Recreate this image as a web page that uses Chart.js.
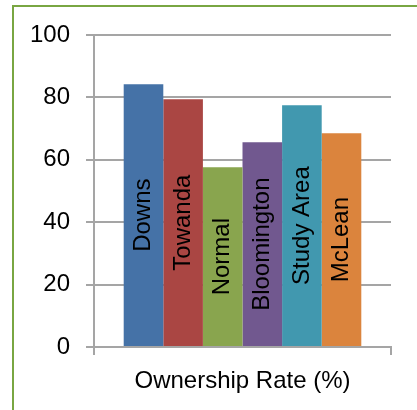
<!DOCTYPE html>
<html>
<head>
<meta charset="utf-8">
<script src="https://cdn.jsdelivr.net/npm/chart.js@4"></script>
<style>
  body { margin: 0; background: #fff; }
  #wrap { position: relative; width: 417px; height: 410px; overflow: hidden; }
  #frame { position: absolute; left: 12px; top: 5px; width: 500px; height: 500px;
           border-left: 2px solid #79a642; border-top: 2px solid #79a642; }
  #chart { position: absolute; left: 0; top: 0; }
</style>
</head>
<body>
<div id="wrap">
  <div id="frame"></div>
  <canvas id="chart" width="417" height="410"></canvas>
</div>
<script>
    // Chart data
    const categories = ['Ownership Rate (%)'];
    const seriesNames = ['Downs', 'Towanda', 'Normal', 'Bloomington', 'Study Area', 'McLean'];
    const ownershipRates = [84.2, 79.4, 57.6, 65.6, 77.5, 68.5];
    const seriesColors = ['#4572a7', '#aa4643', '#89a54e', '#71588f', '#4198af', '#db843d'];
    const yTicks = [0, 20, 40, 60, 80, 100];

    const labelFont = '24px "Liberation Sans", Arial, sans-serif';

    // Series names written vertically inside each bar
    const barLabels = {
        id: 'barLabels',
        afterDatasetsDraw(chart) {
            const ctx = chart.ctx;
            ctx.save();
            ctx.font = labelFont;
            ctx.fillStyle = '#000';
            ctx.textAlign = 'center';
            ctx.textBaseline = 'middle';
            chart.data.datasets.forEach((ds, i) => {
                const bar = chart.getDatasetMeta(i).data[0];
                ctx.save();
                ctx.translate(bar.x, (bar.y + bar.base) / 2);
                ctx.rotate(-Math.PI / 2);
                ctx.fillText(ds.label, 0, 0);
                ctx.restore();
            });
            ctx.restore();
        }
    };

    const ctx = document.getElementById('chart').getContext('2d');
    new Chart(ctx, {
        type: 'bar',
        data: {
            labels: categories,
            datasets: seriesNames.map((name, i) => ({
                label: name,
                data: [ownershipRates[i]],
                backgroundColor: seriesColors[i],
                borderWidth: 0
            }))
        },
        options: {
            responsive: false,
            animation: false,
            layout: { padding: { top: 35, right: 26, left: 30, bottom: 0 } },
            datasets: { bar: { categoryPercentage: 0.8, barPercentage: 1 } },
            plugins: {
                legend: { display: false },
                tooltip: { enabled: false }
            },
            scales: {
                x: {
                    offset: true,
                    afterFit: s => { s.height = 63; },
                    grid: {
                        offset: true,
                        drawOnChartArea: false,
                        drawTicks: true,
                        tickLength: 8,
                        color: '#a5a5a5',
                        lineWidth: 2
                    },
                    border: { display: true, color: '#a5a5a5', width: 2 },
                    ticks: {
                        color: '#000',
                        padding: 12,
                        font: { family: '"Liberation Sans", Arial, sans-serif', size: 24 }
                    }
                },
                y: {
                    min: 0,
                    max: 100,
                    afterFit: s => { s.width = 64; },
                    afterBuildTicks: s => { s.ticks = yTicks.map(v => ({ value: v })); },
                    grid: {
                        color: '#a5a5a5',
                        lineWidth: 2,
                        tickLength: 8
                    },
                    border: { display: true, color: '#a5a5a5', width: 2 },
                    ticks: {
                        color: '#000',
                        padding: 16,
                        font: { family: '"Liberation Sans", Arial, sans-serif', size: 24 }
                    }
                }
            }
        },
        plugins: [barLabels]
    });
</script>
</body>
</html>
